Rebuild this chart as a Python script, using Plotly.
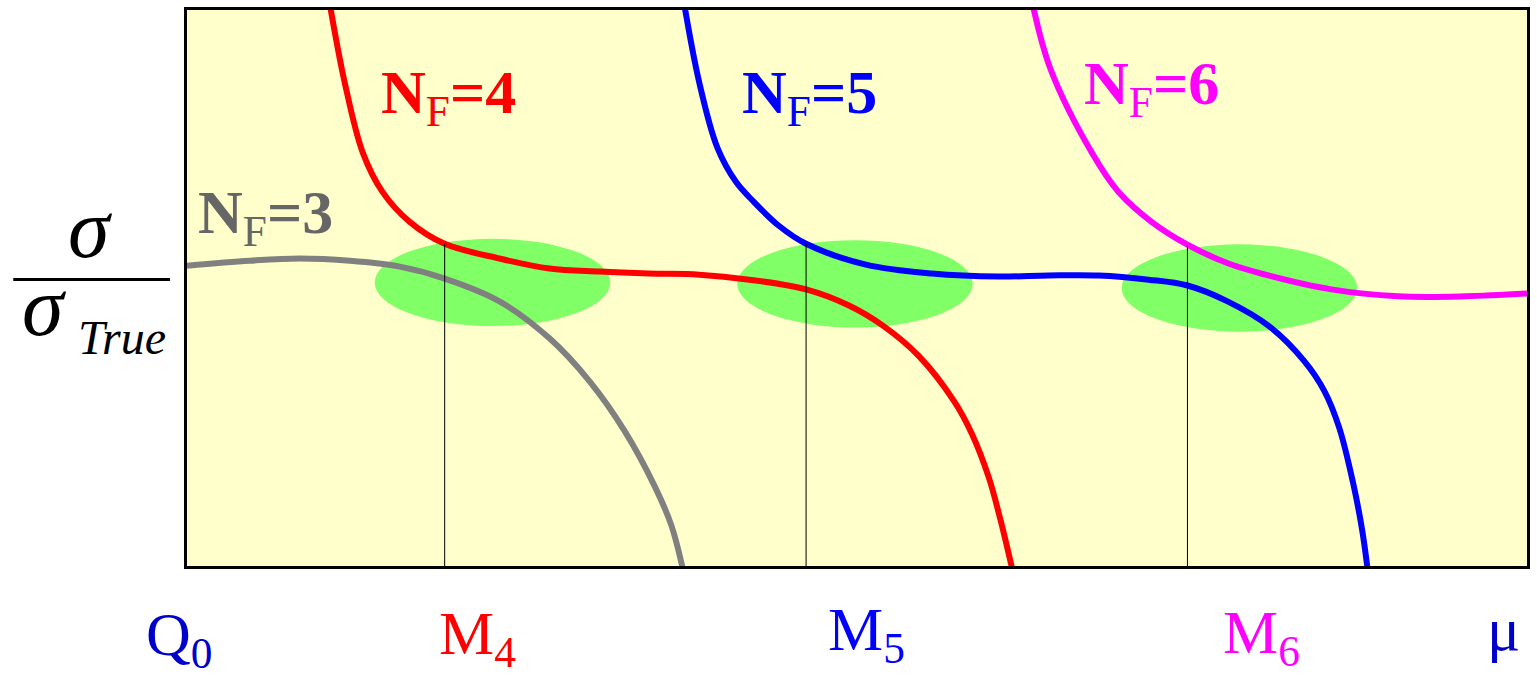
import plotly.graph_objects as go

# ---------------- data (x: renormalisation scale mu, y: sigma / sigma_true) -------------
nf3_x = [0.0, 0.469, 0.842, 1.215, 1.587, 1.923, 2.332, 2.705, 3.003, 3.264, 3.487, 3.614, 3.70]
nf3_y = [1.080, 1.098, 1.106, 1.098, 1.077, 1.034, 0.952, 0.819, 0.665, 0.487, 0.290, 0.147, -0.01]

nf4_x = [1.066, 1.177, 1.311, 1.460, 1.662, 1.923, 2.332, 2.705, 3.077, 3.450, 3.823,
         4.195, 4.620, 4.940, 5.201, 5.462, 5.723, 5.857, 5.984, 6.066, 6.158]
nf4_y = [2.02, 1.739, 1.488, 1.345, 1.238, 1.159, 1.106, 1.070, 1.059, 1.052, 1.048,
         1.030, 0.995, 0.937, 0.862, 0.755, 0.594, 0.476, 0.318, 0.175, -0.01]

nf5_x = [3.711, 3.823, 3.957, 4.098, 4.232, 4.419, 4.620, 5.067, 5.559, 6.058, 6.431,
         6.803, 7.176, 7.466, 7.765, 8.077, 8.338, 8.487, 8.599, 8.703, 8.770, 8.810]
nf5_y = [2.02, 1.739, 1.506, 1.381, 1.309, 1.223, 1.159, 1.084, 1.052, 1.041, 1.045,
         1.045, 1.030, 1.009, 0.952, 0.862, 0.737, 0.630, 0.497, 0.297, 0.129, -0.01]

nf6_x = [6.311, 6.446, 6.751, 6.952, 7.198, 7.466, 7.772, 8.048, 8.540, 9.039,
         9.538, 10.0]
nf6_y = [2.02, 1.785, 1.488, 1.345, 1.238, 1.156, 1.088, 1.048, 0.995, 0.970,
         0.970, 0.980]

# quark mass thresholds and the matching point on the upper curve
thr_x = [1.923, 4.620, 7.466]
thr_y = [1.159, 1.159, 1.156]

# matching regions (ellipse centres)
blob_x = [2.280, 4.985, 7.854]
blob_y = [1.020, 1.015, 1.000]

curve_labels = ["3", "4", "5", "6"]
bottom_labels = ["Q<sub>0</sub>", "M<sub>4</sub>", "M<sub>5</sub>", "M<sub>6</sub>", "\u03bc"]

# ---------------- figure geometry ----------------
W, H = 1537, 677
L, R, T, B = 187, 1529, 7, 566


def px(xp):
    return (xp - L) / (R - L)


def py(yp):
    return (B - yp) / (B - T)


FONT = "Liberation Serif"

fig = go.Figure()

curve_style = [
    (nf3_x, nf3_y, "#808080"),
    (nf4_x, nf4_y, "#FF0000"),
    (nf5_x, nf5_y, "#0000FF"),
    (nf6_x, nf6_y, "#FF00FF"),
]
for xs, ys, col in curve_style:
    fig.add_trace(go.Scatter(x=xs, y=ys, mode="lines",
                             line=dict(color=col, width=6, shape="spline", smoothing=1.0),
                             hoverinfo="skip", showlegend=False))

for xv, yv in zip(thr_x, thr_y):
    fig.add_trace(go.Scatter(x=[xv, xv], y=[0, yv], mode="lines",
                             line=dict(color="black", width=1),
                             hoverinfo="skip", showlegend=False))

shapes = []
RX, RY = 0.879, 0.157
for cx, cy in zip(blob_x, blob_y):
    shapes.append(dict(type="circle", xref="x", yref="y",
                       x0=cx - RX, x1=cx + RX, y0=cy - RY, y1=cy + RY,
                       fillcolor="#80FF66", line=dict(width=0), layer="below"))
# fraction bar
shapes.append(dict(type="line", xref="paper", yref="paper",
                   x0=px(13), x1=px(170), y0=py(278), y1=py(278),
                   line=dict(color="black", width=3)))

ann = []


def text_at(txt, left, baseline, size, color, italic=False, anchor="left"):
    top = baseline - 0.891 * size - 2
    ann.append(dict(text=txt, xref="paper", yref="paper", x=px(left - 1), y=py(top),
                    xanchor=anchor, yanchor="top", showarrow=False,
                    font=dict(family=FONT, size=size, color=color,
                              style="italic" if italic else "normal")))


# N_F labels
nf_pos = [(197, 231, "#666666"), (380, 110, "#FF0000"), (742, 110, "#0000FF"), (1084, 101, "#FF00FF")]
for lab, (lx, ly, col) in zip(curve_labels, nf_pos):
    text_at("<b>N</b><sub>F</sub><b>=" + lab + "</b>", lx, ly, 62, col)

# bottom scale labels
bot_pos = [(145, 655, "#0000CC"), (438, 654, "#FF0000"), (828, 650, "#0000FF"),
           (1224, 653, "#FF00FF"), (1488, 650, "#0000CC")]
for lab, (lx, ly, col) in zip(bottom_labels, bot_pos):
    text_at(lab, lx, ly, 62, col)

# y-axis label: sigma / sigma_True
text_at("\u03c3", 91, 255, 84, "black", italic=True, anchor="center")
text_at("\u03c3", 45, 333, 84, "black", italic=True, anchor="center")
text_at("True", 77, 352, 48, "black", italic=True)

fig.update_layout(
    width=W, height=H,
    margin=dict(l=L, r=W - R, t=T, b=H - B),
    paper_bgcolor="white", plot_bgcolor="#FFFFCC",
    shapes=shapes, annotations=ann,
    xaxis=dict(range=[0, 10], showgrid=False, zeroline=False, showticklabels=False, ticks="",
               showline=True, mirror=True, linewidth=3, linecolor="black", fixedrange=True),
    yaxis=dict(range=[0, 2], showgrid=False, zeroline=False, showticklabels=False, ticks="",
               showline=True, mirror=True, linewidth=3, linecolor="black", fixedrange=True),
)

fig.write_html("out.html", config={"displayModeBar": False},
               post_script="document.body.style.margin='0';document.body.style.overflow='hidden';")
